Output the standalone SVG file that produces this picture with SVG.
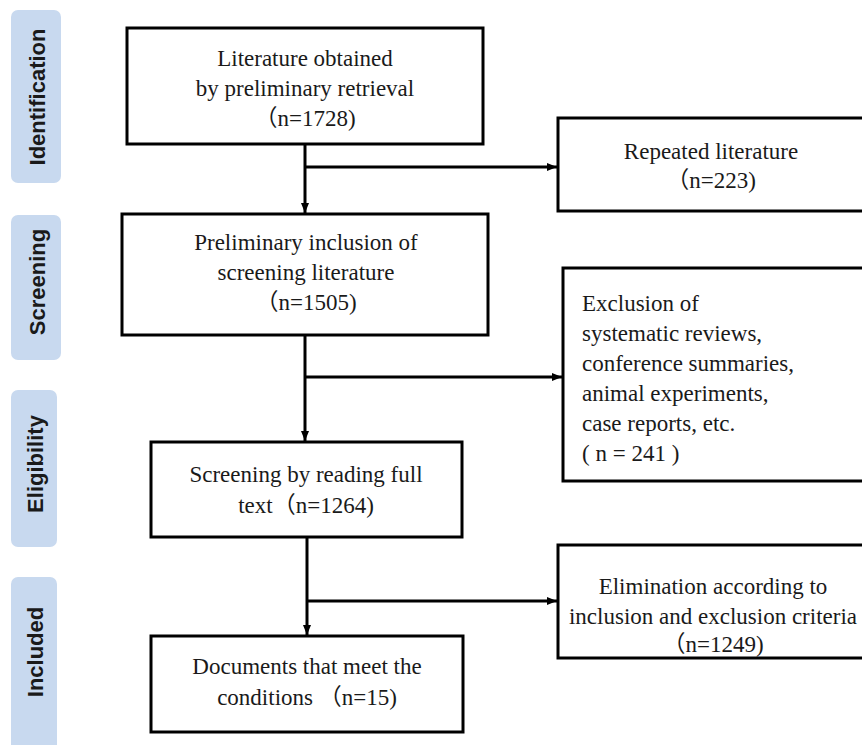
<svg xmlns="http://www.w3.org/2000/svg" width="862" height="745" viewBox="0 0 862 745">
<defs>
<marker id="ah" viewBox="0 0 10 10" refX="10" refY="5" markerWidth="3.5" markerHeight="3.5" markerUnits="strokeWidth" orient="auto">
<path d="M0,1 L10,5 L0,9 z" fill="#000"/>
</marker>
<style>
.pill{fill:#c8d9ef;}
.ptxt{font-family:'Liberation Sans',Arial,sans-serif;font-weight:bold;font-size:22px;fill:#1a1a1a;text-anchor:middle;dominant-baseline:central;}
.box{fill:#fff;stroke:#000;stroke-width:3;}
.t{font-family:'Liberation Serif','Times New Roman','Noto Sans CJK SC',serif;font-size:23px;fill:#1a1a1a;text-anchor:middle;}
.tl{text-anchor:start;}
.c{fill:none;stroke:#000;stroke-width:3;}
</style>
</defs>
<rect width="862" height="745" fill="#fff"/>

<g id="stage-identification">
<rect class="pill" x="11" y="10" width="50" height="173" rx="7"/>
<text class="ptxt" transform="translate(37,97) rotate(-90)">Identification</text>
</g>
<g id="stage-screening">
<rect class="pill" x="11" y="215" width="50" height="145" rx="7"/>
<text class="ptxt" transform="translate(37,282) rotate(-90)">Screening</text>
</g>
<g id="stage-eligibility">
<rect class="pill" x="11" y="390" width="46" height="157" rx="7"/>
<text class="ptxt" transform="translate(35,464) rotate(-90)">Eligibility</text>
</g>
<g id="stage-included">
<rect class="pill" x="11" y="577" width="46" height="180" rx="7"/>
<text class="ptxt" transform="translate(35,652) rotate(-90)">Included</text>
</g>

<g id="connectors">
<line class="c" x1="305" y1="144" x2="305" y2="213" marker-end="url(#ah)"/>
<line class="c" x1="305" y1="167" x2="557" y2="167" marker-end="url(#ah)"/>
<line class="c" x1="305" y1="335" x2="305" y2="441" marker-end="url(#ah)"/>
<line class="c" x1="305" y1="377" x2="562" y2="377" marker-end="url(#ah)"/>
<line class="c" x1="307" y1="537" x2="307" y2="635" marker-end="url(#ah)"/>
<line class="c" x1="307" y1="601" x2="557" y2="601" marker-end="url(#ah)"/>
</g>

<g id="n1">
<rect class="box" x="127" y="28" width="356" height="116"/>
<text class="t" x="305" y="66">Literature obtained</text>
<text class="t" x="305" y="96">by preliminary retrieval</text>
<text class="t" x="305" y="126">（n=1728)</text>
</g>
<g id="n2">
<rect class="box" x="558" y="118" width="310" height="93"/>
<text class="t" x="711" y="159">Repeated literature</text>
<text class="t" x="711" y="188">（n=223)</text>
</g>
<g id="n3">
<rect class="box" x="122" y="214" width="366" height="121"/>
<text class="t" x="306" y="250">Preliminary inclusion of</text>
<text class="t" x="306" y="280">screening literature</text>
<text class="t" x="306" y="310">（n=1505)</text>
</g>
<g id="n4">
<rect class="box" x="563" y="268" width="305" height="213"/>
<text class="t tl" x="582" y="311">Exclusion of</text>
<text class="t tl" x="582" y="341">systematic reviews,</text>
<text class="t tl" x="582" y="371">conference summaries,</text>
<text class="t tl" x="582" y="401">animal experiments,</text>
<text class="t tl" x="582" y="431">case reports, etc.</text>
<text class="t tl" x="582" y="461">( n = 241 )</text>
</g>
<g id="n5">
<rect class="box" x="151" y="442" width="311" height="95"/>
<text class="t" x="306" y="482">Screening by reading full</text>
<text class="t" x="306" y="513">text（n=1264)</text>
</g>
<g id="n6">
<rect class="box" x="558" y="545" width="310" height="113"/>
<text class="t" x="713" y="594">Elimination according to</text>
<text class="t" x="713" y="624">inclusion and exclusion criteria</text>
<text class="t" x="713" y="652">（n=1249)</text>
</g>
<g id="n7">
<rect class="box" x="151" y="636" width="312" height="96"/>
<text class="t" x="307" y="674">Documents that meet the</text>
<text class="t" x="307" y="705">conditions （n=15)</text>
</g>
</svg>
